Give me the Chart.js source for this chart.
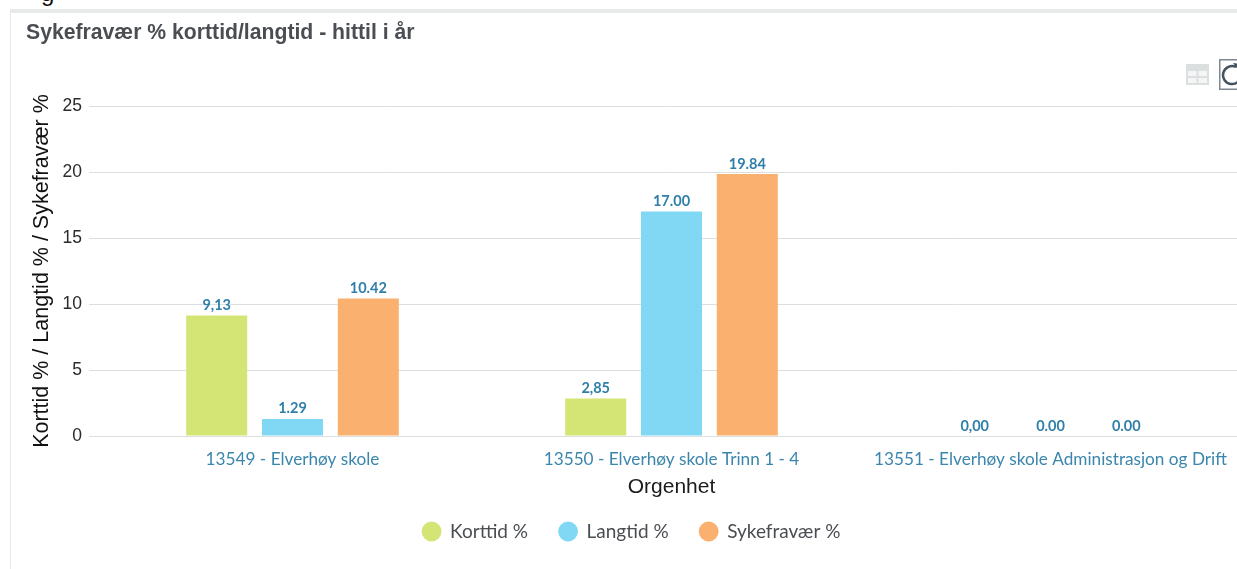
<!DOCTYPE html>
<html lang="no">
<head>
<meta charset="utf-8">
<title>Sykefravær % korttid/langtid - hittil i år</title>
<script src="https://cdn.jsdelivr.net/npm/chart.js@4/dist/chart.umd.min.js"></script>
<style>
  html, body { margin: 0; width: 1237px; height: 569px; overflow: hidden; background: #fff; }
  #stage { position: relative; width: 1237px; height: 569px; overflow: hidden; }
  #band { position: absolute; left: 11px; top: 9px; width: 1226px; height: 4px; background: #e8eaea; }
  #edge { position: absolute; left: 10px; top: 9px; width: 1px; height: 560px; background: #e8eaea; }
  #cut { position: absolute; left: 41px; top: -21px; font: 24px 'Liberation Sans', Arial, sans-serif; color: #111; }
  #heading { position: absolute; left: 26px; top: 20px; font: bold 21.2px 'Liberation Sans', Arial, sans-serif; color: #4a4d52; white-space: nowrap; }
  #chart { position: absolute; left: 0; top: 0; }
  #tableIcon { position: absolute; left: 1186px; top: 64px; }
  #reloadIcon { position: absolute; left: 1219px; top: 59px; }
</style>
</head>
<body>
<div id="stage">
  <div id="band"></div>
  <div id="edge"></div>
  <span id="cut">g</span>
  <canvas id="chart" width="1260" height="569"></canvas>
  <div id="heading">Sykefravær % korttid/langtid - hittil i år</div>
  <svg id="tableIcon" width="23" height="21" viewBox="0 0 23 21">
    <rect x="0" y="0" width="23" height="21" fill="#dcdfe0"/>
    <rect x="2" y="7" width="8.5" height="5" fill="#f4f5f5"/>
    <rect x="12.5" y="7" width="8.5" height="5" fill="#f4f5f5"/>
    <rect x="2" y="14" width="8.5" height="5" fill="#f4f5f5"/>
    <rect x="12.5" y="14" width="8.5" height="5" fill="#f4f5f5"/>
  </svg>
  <svg id="reloadIcon" width="24" height="31" viewBox="0 0 24 31">
    <rect x="0.75" y="0.75" width="30" height="29.5" fill="#fff" stroke="#7f8890" stroke-width="1.5"/>
    <path d="M17 8 A 9 9 0 1 0 22 16" fill="none" stroke="#46535e" stroke-width="2.5"/>
    <path d="M14 4 L22 5 L20 12 Z" fill="#46535e"/>
  </svg>
</div>
<script>
const categories = ['13549 - Elverhøy skole', '13550 - Elverhøy skole Trinn 1 - 4', '13551 - Elverhøy skole Administrasjon og Drift'];
const korttid = [9.13, 2.85, 0];
const langtid = [1.29, 17.00, 0];
const sykefravaer = [10.42, 19.84, 0];
// label text is not uniform in the source (comma on the first series)
const korttidLabels = ['9,13', '2,85', '0,00'];
const langtidLabels = ['1.29', '17.00', '0.00'];
const sykefravaerLabels = ['10.42', '19.84', '0.00'];

const GRID = '#dcdfdf', BLUE_TEXT = '#3b86ad', LABEL_TEXT = '#2f7fa9';

const barLabels = {
  id: 'barLabels',
  afterDatasetsDraw(chart) {
    const c = chart.ctx;
    c.save();
    c.font = 'bold 14.5px Lato, sans-serif';
    c.fillStyle = LABEL_TEXT;
    c.textAlign = 'center';
    c.textBaseline = 'alphabetic';
    chart.data.datasets.forEach((ds, i) => {
      chart.getDatasetMeta(i).data.forEach((bar, j) => {
        c.fillText(ds.valueLabels[j], bar.x, bar.y - 5.5);
      });
    });
    c.restore();
  }
};

new Chart(document.getElementById('chart'), {
  type: 'bar',
  data: {
    labels: categories,
    datasets: [
      { label: 'Korttid %', data: korttid, valueLabels: korttidLabels, backgroundColor: '#d4e576' },
      { label: 'Langtid %', data: langtid, valueLabels: langtidLabels, backgroundColor: '#80d8f5' },
      { label: 'Sykefravær %', data: sykefravaer, valueLabels: sykefravaerLabels, backgroundColor: '#fab06e' }
    ]
  },
  options: {
    responsive: false,
    animation: false,
    layout: { padding: { top: 106, right: 20, bottom: 18, left: 23 } },
    datasets: { bar: { categoryPercentage: 0.6, barPercentage: 0.805 } },
    scales: {
      x: {
        grid: { display: false },
        border: { color: GRID },
        ticks: { color: BLUE_TEXT, font: { family: 'Lato', size: 17.2 }, padding: 5, maxRotation: 0, autoSkip: false },
        title: { display: true, text: 'Orgenhet', color: '#1b1b1b', font: { family: 'Liberation Sans', size: 21 }, padding: { top: 4, bottom: -9 } },
        afterFit(s) { s.height = 55; }
      },
      y: {
        min: 0, max: 25,
        grid: { color: GRID, tickLength: 14, tickColor: GRID },
        border: { display: false },
        ticks: { stepSize: 5, color: '#2b2b2b', font: { family: 'Liberation Sans', size: 17.5 }, padding: 7 },
        title: { display: true, text: 'Korttid % / Langtid % / Sykefravær %', color: '#111', font: { family: 'Liberation Sans', size: 21.5 }, padding: { top: 6, bottom: 0 } },
        afterFit(s) { s.width = 80; }
      }
    },
    plugins: {
      legend: {
        position: 'bottom',
        labels: { usePointStyle: true, boxWidth: 18, boxHeight: 14, padding: 31, color: '#4a4d52', font: { family: 'Lato', size: 19 } }
      },
      tooltip: { enabled: false }
    }
  },
  plugins: [barLabels]
});
</script>
</body>
</html>
